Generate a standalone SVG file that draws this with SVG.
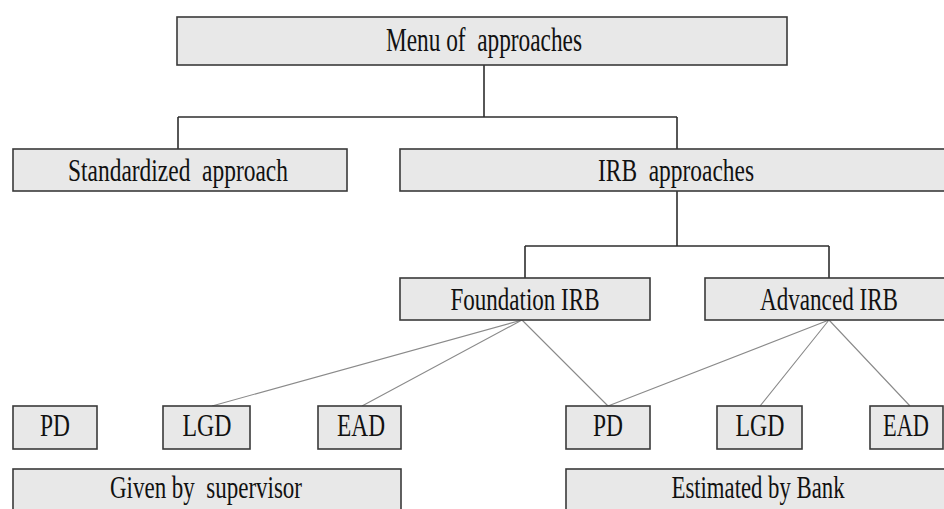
<svg xmlns="http://www.w3.org/2000/svg" width="944" height="509" viewBox="0 0 944 509">
<style>
.box{fill:#e8e8e8;stroke:#3a3a3a;stroke-width:1.6}
.t{font-family:"Liberation Serif","Times New Roman",serif;font-size:31px;fill:#111111;text-anchor:middle;white-space:pre}
.tree{stroke:#2e2e2e;stroke-width:1.6;fill:none}
.diag{stroke:#8a8a8a;stroke-width:1.1;fill:none}
</style>
<rect width="944" height="509" fill="#ffffff"/>
<g id="connectors">
<path class="tree" d="M484 65V117M178 117H677M178 117V149M677 117V149"/>
<path class="tree" d="M677 191V246M525 246H829M525 246V278M829 246V278"/>
<path class="diag" d="M522 320L212 406M522 320L362 406M522 320L608 406"/>
<path class="diag" d="M829 320L608 406M829 320L760 406M829 320L910 406"/>
</g>
<g id="menu"><rect class="box" x="177" y="17" width="610" height="48"/><text class="t" x="484" y="51" textLength="196" lengthAdjust="spacingAndGlyphs" xml:space="preserve" style="font-size:34px">Menu of  approaches</text></g>
<g id="standardized"><rect class="box" x="13" y="149" width="334" height="42"/><text class="t" x="178" y="181" textLength="220" lengthAdjust="spacingAndGlyphs" xml:space="preserve">Standardized  approach</text></g>
<g id="irb"><rect class="box" x="400" y="149" width="553" height="42"/><text class="t" x="676" y="181" textLength="156" lengthAdjust="spacingAndGlyphs" xml:space="preserve">IRB  approaches</text></g>
<g id="foundation"><rect class="box" x="400" y="278" width="250" height="42"/><text class="t" x="525" y="310" textLength="149" lengthAdjust="spacingAndGlyphs">Foundation IRB</text></g>
<g id="advanced"><rect class="box" x="705" y="278" width="248" height="42"/><text class="t" x="829" y="310" textLength="138" lengthAdjust="spacingAndGlyphs">Advanced IRB</text></g>
<g id="pd1"><rect class="box" x="13" y="406" width="84" height="43"/><text class="t" x="55" y="436" textLength="30" lengthAdjust="spacingAndGlyphs">PD</text></g>
<g id="lgd1"><rect class="box" x="163" y="406" width="87" height="43"/><text class="t" x="207" y="436" textLength="49" lengthAdjust="spacingAndGlyphs">LGD</text></g>
<g id="ead1"><rect class="box" x="318" y="406" width="83" height="43"/><text class="t" x="361" y="436" textLength="48" lengthAdjust="spacingAndGlyphs">EAD</text></g>
<g id="pd2"><rect class="box" x="566" y="406" width="84" height="43"/><text class="t" x="608" y="436" textLength="30" lengthAdjust="spacingAndGlyphs">PD</text></g>
<g id="lgd2"><rect class="box" x="717" y="406" width="85" height="43"/><text class="t" x="760" y="436" textLength="49" lengthAdjust="spacingAndGlyphs">LGD</text></g>
<g id="ead2"><rect class="box" x="870" y="406" width="73" height="43"/><text class="t" x="906" y="436" textLength="46" lengthAdjust="spacingAndGlyphs">EAD</text></g>
<g id="given"><rect class="box" x="13" y="469" width="388" height="50"/><text class="t" x="206" y="498" textLength="192" lengthAdjust="spacingAndGlyphs" xml:space="preserve">Given by  supervisor</text></g>
<g id="estimated"><rect class="box" x="566" y="469" width="386" height="50"/><text class="t" x="758" y="498" textLength="173" lengthAdjust="spacingAndGlyphs">Estimated by Bank</text></g>
</svg>
